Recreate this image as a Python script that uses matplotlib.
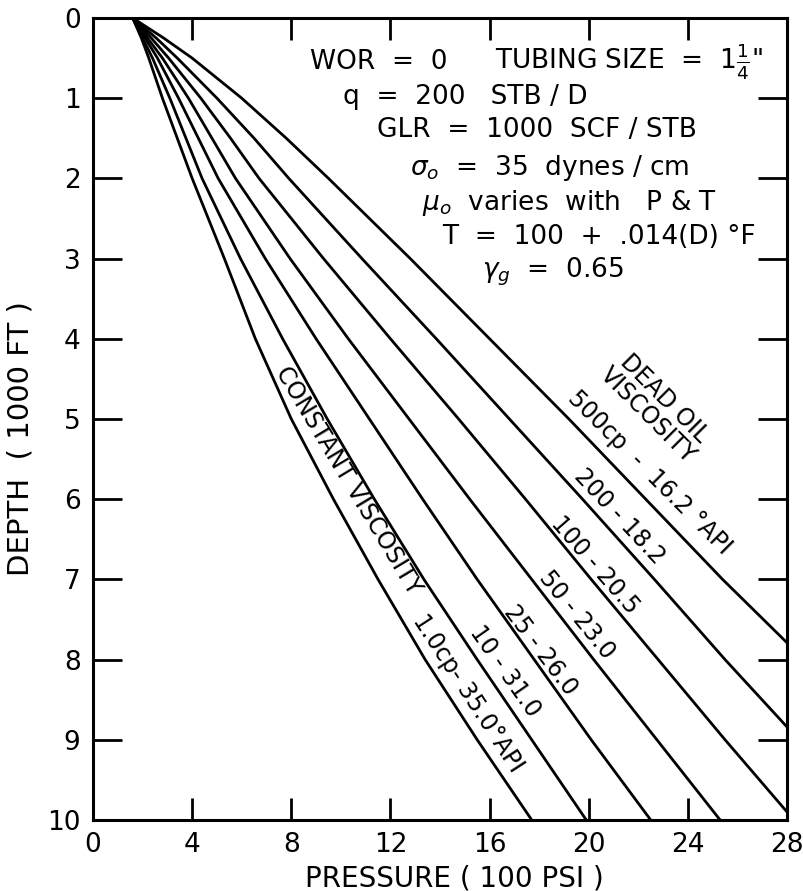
import matplotlib
matplotlib.use('Agg')
import matplotlib.pyplot as plt

plt.rcParams['font.family'] = 'DejaVu Sans'
plt.rcParams['mathtext.fontset'] = 'dejavusans'

# depth (1000 ft) and pressure (100 psi), one list per curve
depth_full = [0, 0.25, 0.5, 1, 1.5, 2, 3, 4, 5, 6, 7, 8, 9, 10]

p_1cp = [1.6, 1.95, 2.25, 2.8, 3.4, 4.0, 5.3, 6.55, 8.0, 9.7, 11.5, 13.4, 15.5, 17.7]
p_10 = [1.6, 2.0, 2.4, 3.1, 3.75, 4.4, 5.95, 7.65, 9.45, 11.35, 13.35, 15.5, 17.7, 19.9]
p_25 = [1.6, 2.1, 2.6, 3.45, 4.25, 5.05, 6.95, 9.0, 11.15, 13.3, 15.5, 17.8, 20.1, 22.5]
p_50 = [1.6, 2.2, 2.8, 3.85, 4.8, 5.75, 7.95, 10.3, 12.75, 15.2, 17.7, 20.2, 22.75, 25.3]

depth_100 = [0, 0.25, 0.5, 1, 1.5, 2, 3, 4, 5, 6, 7, 8, 9, 9.9]
p_100 = [1.6, 2.35, 3.05, 4.35, 5.55, 6.7, 9.3, 12.0, 14.75, 17.45, 20.1, 22.8, 25.5, 28.0]

depth_200 = [0, 0.25, 0.5, 1, 1.5, 2, 3, 4, 5, 6, 7, 8, 8.84]
p_200 = [1.6, 2.55, 3.4, 5.0, 6.5, 7.9, 10.85, 13.85, 16.8, 19.75, 22.65, 25.5, 28.0]

depth_500 = [0, 0.25, 0.5, 1, 1.5, 2, 3, 4, 5, 6, 7, 7.79]
p_500 = [1.6, 2.85, 4.0, 6.0, 7.8, 9.5, 12.8, 16.0, 19.2, 22.3, 25.4, 28.0]

curves = [(p_1cp, depth_full), (p_10, depth_full), (p_25, depth_full),
          (p_50, depth_full), (p_100, depth_100), (p_200, depth_200),
          (p_500, depth_500)]

xticks = [0, 4, 8, 12, 16, 20, 24, 28]
yticks = [0, 1, 2, 3, 4, 5, 6, 7, 8, 9, 10]

fig = plt.figure(figsize=(8.04, 8.91), dpi=100)
ax = fig.add_axes([0.1157, 0.0797, 0.8632, 0.9001])

for p, d in curves:
    ax.plot(p, d, color='black', lw=2.0, solid_joinstyle='round')

ax.set_xlim(0, 28)
ax.set_ylim(10, 0)
ax.set_xticks(xticks)
ax.set_yticks(yticks)
ax.tick_params(axis='both', direction='in', top=True, right=True,
               width=2.0, labelsize=19, pad=9)
ax.tick_params(axis='x', length=16)
ax.tick_params(axis='y', length=21)
for s in ax.spines.values():
    s.set_linewidth(2.2)

ax.set_xlabel('PRESSURE ( 100 PSI )', fontsize=20)
ax.set_ylabel('DEPTH  ( 1000 FT )', fontsize=21)
ax.xaxis.set_label_coords(0.52, -0.055)
ax.yaxis.set_label_coords(-0.085, 0.475)

# conditions block
tk = dict(fontsize=19, ha='left', va='center')
ax.text(8.75, 0.55, 'WOR  =  0', **tk)
ax.text(16.2, 0.55, r'TUBING SIZE  =  1$\frac{1}{4}$"', **tk)
ax.text(10.08, 0.985, 'q  =  200   STB / D', **tk)
ax.text(11.45, 1.40, 'GLR  =  1000  SCF / STB', **tk)
ax.text(12.78, 1.87, r'$\sigma_o$  =  35  dynes / cm', **tk)
ax.text(13.27, 2.31, r'$\mu_o$  varies  with   P & T', **tk)
ax.text(14.1, 2.73, u'T  =  100  +  .014(D) \u00b0F', **tk)
ax.text(15.7, 3.17, r'$\gamma_g$  =  0.65', **tk)

# curve labels
lk = dict(fontsize=17, ha='center', va='center', rotation_mode='anchor')
ax.text(10.28, 5.76, 'CONSTANT VISCOSITY', rotation=-59, **lk)
ax.text(15.12, 8.42, u'1.0cp- 35.0\u00b0API', rotation=-57, **lk)
ax.text(16.61, 8.15, '10 - 31.0', rotation=-55, **lk)
ax.text(18.06, 7.88, '25 - 26.0', rotation=-53, **lk)
ax.text(19.52, 7.44, '50 - 23.0', rotation=-51, **lk)
ax.text(20.24, 6.82, '100 - 20.5', rotation=-49, **lk)
ax.text(21.25, 6.22, '200 - 18.2', rotation=-47, **lk)
ax.text(22.46, 5.67, u'500cp  -  16.2 \u00b0API', rotation=-45, **lk)
ax.text(22.38, 4.95, 'VISCOSITY', rotation=-45, **lk)
ax.text(23.06, 4.74, 'DEAD OIL', rotation=-45, **lk)

fig.savefig('out.png', dpi=100)
